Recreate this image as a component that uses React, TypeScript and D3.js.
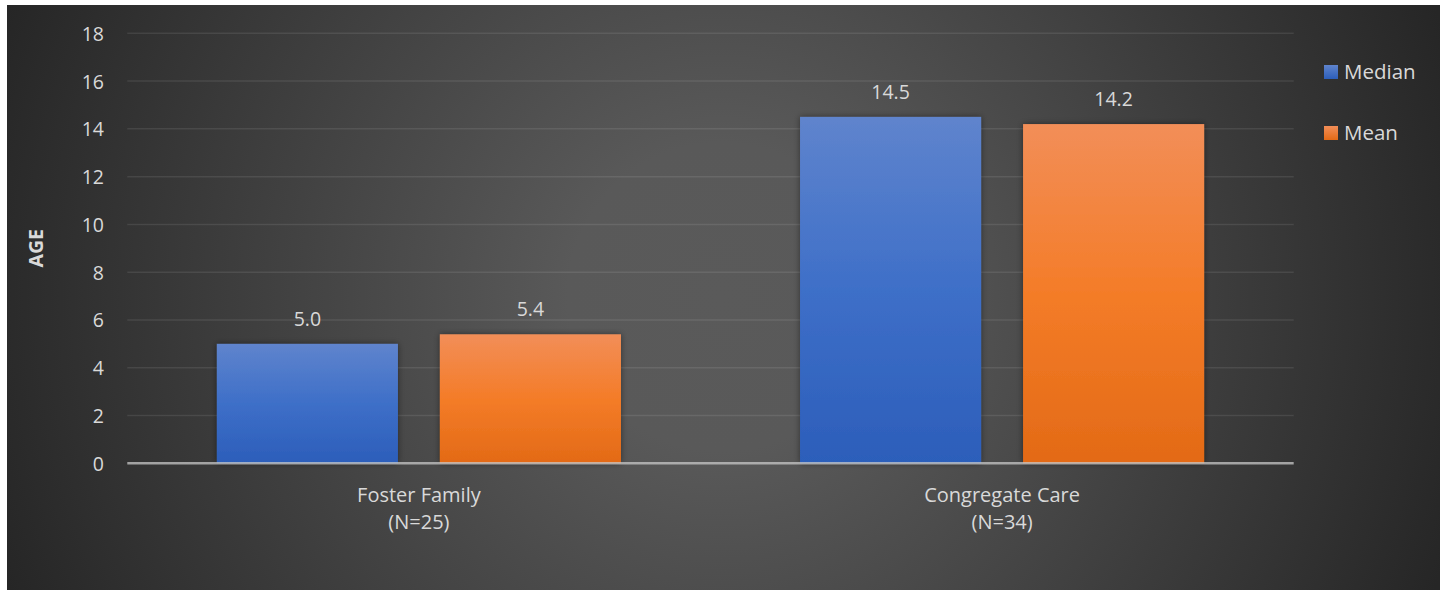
import React from "react";
import * as d3 from "d3";

const categories = ["Foster Family|(N=25)", "Congregate Care|(N=34)"];
const seriesNames = ["Median", "Mean"];
const medianValues = [5.0, 14.5];
const meanValues = [5.4, 14.2];
const yTicks = [0, 2, 4, 6, 8, 10, 12, 14, 16, 18];
const yTitle = "AGE";

const W = 1445;
const H = 590;
const plot = { left: 127.3, right: 1293.7, top: 33.3, bottom: 463.3 };

export default function App() {
  const y = d3.scaleLinear().domain([0, 18]).range([plot.bottom, plot.top]);
  const x0 = d3.scaleBand<string>().domain(categories).range([plot.left, plot.right]).padding(0);
  const x1 = d3
    .scaleBand<string>()
    .domain(seriesNames)
    .range([0, x0.bandwidth()])
    .paddingInner(0.188)
    .paddingOuter(0.4015);
  const seriesData = [medianValues, meanValues];
  const fills = ["url(#gBlue)", "url(#gOrange)"];
  const legendFills = ["url(#gBlueL)", "url(#gOrangeL)"];
  const font = "'Open Sans', 'Segoe UI', sans-serif";
  const textColor = "#d9d9d9";

  return (
    <svg width={W} height={H} style={{ position: "absolute", left: 0, top: 0 }}>
      <defs>
        <radialGradient id="bg" gradientUnits="userSpaceOnUse" cx={722} cy={297} r={770}>
          <stop offset="0" stopColor="#5a5a5a" />
          <stop offset="0.2" stopColor="#595959" />
          <stop offset="1" stopColor="#262626" />
        </radialGradient>
        <linearGradient id="gBlue" x1="0" y1="0" x2="0" y2="1">
          <stop offset="0" stopColor="#5f84cd" />
          <stop offset="0.5" stopColor="#3e6fc8" />
          <stop offset="1" stopColor="#2c5eba" />
        </linearGradient>
        <linearGradient id="gOrange" x1="0" y1="0" x2="0" y2="1">
          <stop offset="0" stopColor="#f28e58" />
          <stop offset="0.5" stopColor="#f47c28" />
          <stop offset="1" stopColor="#e36a16" />
        </linearGradient>
        <linearGradient id="gBlueL" x1="0" y1="0" x2="0" y2="1">
          <stop offset="0" stopColor="#5f84cd" />
          <stop offset="1" stopColor="#2c5eba" />
        </linearGradient>
        <linearGradient id="gOrangeL" x1="0" y1="0" x2="0" y2="1">
          <stop offset="0" stopColor="#f28e58" />
          <stop offset="1" stopColor="#e36a16" />
        </linearGradient>
        <filter id="shadow" x="-10%" y="-10%" width="120%" height="120%">
          <feDropShadow dx="0" dy="0" stdDeviation="3" floodColor="#000" floodOpacity="0.45" />
        </filter>
      </defs>
      <rect x={7} y={5} width={1433} height={590} fill="url(#bg)" />

      {yTicks.map((t) => (
        <g key={t}>
          {t !== 0 && (
            <line
              x1={plot.left}
              x2={plot.right}
              y1={y(t)}
              y2={y(t)}
              stroke="rgba(255,255,255,0.09)"
              strokeWidth={1.5}
            />
          )}
          <text
            x={104}
            y={y(t)}
            textAnchor="end"
            dominantBaseline="central"
            fill={textColor}
            fontFamily={font}
            fontSize={19.5}
          >
            {t}
          </text>
        </g>
      ))}

      {categories.map((c, ci) => (
        <g key={c} transform={`translate(${x0(c)},0)`}>
          {seriesNames.map((s, si) => {
            const v = seriesData[si][ci];
            const bx = x1(s)!;
            return (
              <g key={s}>
                <rect
                  x={bx}
                  y={y(v)}
                  width={x1.bandwidth()}
                  height={y(0) - y(v)}
                  fill={fills[si]}
                  filter="url(#shadow)"
                />
                <text
                  x={bx + x1.bandwidth() / 2}
                  y={y(v) - 18}
                  textAnchor="middle"
                  fill={textColor}
                  fontFamily={font}
                  fontSize={19.5}
                >
                  {v.toFixed(1)}
                </text>
              </g>
            );
          })}
        </g>
      ))}

      <line
        x1={plot.left}
        x2={plot.right}
        y1={y(0)}
        y2={y(0)}
        stroke="rgba(200,200,200,0.75)"
        strokeWidth={2.5}
      />

      {categories.map((c) => {
        const cx = x0(c)! + x0.bandwidth() / 2;
        const lines = c.split("|");
        return (
          <g key={c} transform={`translate(${cx},0)`}>
            {lines.map((l, i) => (
              <text
                key={i}
                x={0}
                y={502 + i * 27}
                textAnchor="middle"
                fill={textColor}
                fontFamily={font}
                fontSize={20}
              >
                {l}
              </text>
            ))}
          </g>
        );
      })}

      <text
        transform={`translate(42.5,${(plot.top + plot.bottom) / 2}) rotate(-90)`}
        textAnchor="middle"
        fill={textColor}
        fontFamily={font}
        fontWeight="bold"
        fontSize={19.5}
      >
        {yTitle}
      </text>

      {seriesNames.map((s, i) => (
        <g key={s} transform={`translate(1324,${65 + i * 61})`}>
          <rect x={0} y={0} width={14} height={14} fill={legendFills[i]} />
          <text x={20} y={14} fill={textColor} fontFamily={font} fontSize={20.5}>
            {s}
          </text>
        </g>
      ))}
    </svg>
  );
}
